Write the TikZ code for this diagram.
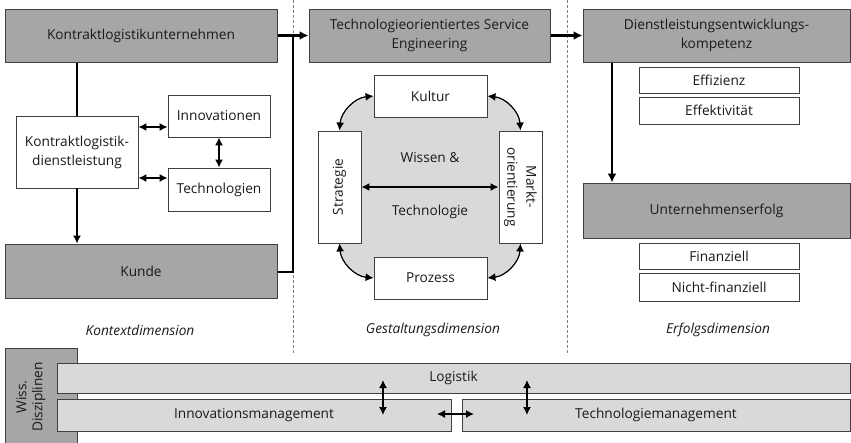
\documentclass[tikz,border=0pt]{standalone}
\usepackage{fontspec}
\setmainfont{Open Sans}
\usetikzlibrary{arrows.meta,positioning,backgrounds}
\definecolor{boxgray}{HTML}{A6A6A6}
\definecolor{bargray}{HTML}{D9D9D9}
\definecolor{linegray}{HTML}{404040}
\definecolor{textgray}{HTML}{1A1A1A}
\tikzset{
    kompbox/.style={
    rectangle,draw=linegray,fill=boxgray,line width=1pt,align=center,inner sep=0pt
    },
    subbox/.style={
    rectangle,draw=linegray,fill=white,line width=0.9pt,align=center,inner sep=0pt
    },
    discbar/.style={
    rectangle,draw=linegray,fill=bargray,line width=0.9pt,inner sep=0pt
    },
    dimlabel/.style={
    font=\fontsize{13.7}{17}\selectfont\itshape
    },
    dbl/.style={
    {Latex[length=8pt,width=8pt]}-{Latex[length=8pt,width=8pt]},line width=1.3pt
    },
    flow/.style={
    -{Latex[length=9pt,width=9pt]},line width=2.3pt
    },
    link/.style={
    line width=1.3pt
    },
    sep/.style={
    draw=gray,line width=0.9pt,dash pattern=on 3pt off 2pt
    },
}

\begin{document}
\begin{tikzpicture}[x=1pt,y=1pt,font=\fontsize{13.7}{19}\selectfont,text=textgray]
  \useasboundingbox (0,0) rectangle (851,-442);
  \clip (0,0) rectangle (851,-442);

  % dimension separators
  \draw[sep] (293,0) -- (293,-355);
  \draw[sep] (567,0) -- (567,-355);

  % Kontextdimension
  \node[kompbox,minimum width=272,minimum height=53] (ku) at (141,-35.5) {Kontraktlogistikunternehmen};
  \node[subbox,minimum width=122,minimum height=72] (kd) at (77,-152) {Kontraktlogistik-\\dienstleistung};
  \node[subbox,minimum width=102,minimum height=42] (inno) at (219,-116) {Innovationen};
  \node[subbox,minimum width=102,minimum height=43] (tech) at (219,-189.5) {Technologien};
  \node[kompbox,minimum width=272,minimum height=54] (kunde) at (141,-271) {Kunde};
  \node[dimlabel] (kontext) at (140,-330) {Kontextdimension};

  % Gestaltungsdimension
  \node[kompbox,minimum width=241,minimum height=53] (tse) at (429.5,-35.5) {Technologieorientiertes Service\\Engineering};
  \node[subbox,minimum width=113,minimum height=42] (kultur) at (430.5,-96) {Kultur};
  \node[subbox,minimum width=113,minimum height=42] (prozess) at (430.5,-278) {Prozess};
  \node[subbox,rotate=90,minimum width=112,minimum height=43] (strat) at (339.5,-187) {Strategie};
  \node[subbox,rotate=-90,minimum width=112,minimum height=43] (markt) at (520.5,-187) {Markt-\\orientierung};
  \node (wissen) at (430,-158) {Wissen \&};
  \node (technol) at (430,-212) {Technologie};
  \node[dimlabel] (gestalt) at (433,-330) {Gestaltungsdimension};

  % Erfolgsdimension
  \node[kompbox,minimum width=267,minimum height=53] (dlk) at (716.5,-35.5) {Dienstleistungsentwicklungs-\\kompetenz};
  \node[subbox,minimum width=160,minimum height=26] (eff) at (719,-80) {Effizienz};
  \node[subbox,minimum width=160,minimum height=27] (effek) at (719,-110.5) {Effektivität};
  \node[kompbox,minimum width=267,minimum height=55] (ue) at (716.5,-210.5) {Unternehmenserfolg};
  \node[subbox,minimum width=160,minimum height=26] (fin) at (719,-256) {Finanziell};
  \node[subbox,minimum width=160,minimum height=28] (nfin) at (719,-287) {Nicht-finanziell};
  \node[dimlabel] (erfolg) at (718,-330) {Erfolgsdimension};

  % Wiss. Disziplinen
  \node[kompbox,minimum width=72,minimum height=97] (wiss) at (41,-396.5) {};
  \node[rotate=90,align=center,font=\fontsize{13.7}{16}\selectfont] (wisstxt) at (31,-397) {Wiss.\\Disziplinen};
  \node[discbar,minimum width=793,minimum height=30] (log) at (453.5,-378) {Logistik};
  \node[discbar,minimum width=394,minimum height=32] (innov) at (254,-415) {Innovationsmanagement};
  \node[discbar,minimum width=388,minimum height=32] (techm) at (656,-415) {Technologiemanagement};

  % Wissen & Technologie
  \begin{pgfonlayer}{background}
    \fill[bargray] (kultur.west) to[bend right=40] (strat.east) -- (strat.west)
      to[bend right=40] (prozess.west) -- (prozess.east)
      to[bend right=40] (markt.east) -- (markt.west)
      to[bend right=40] (kultur.east) -- cycle;
  \end{pgfonlayer}
  \draw[dbl] (kultur.west) to[bend right=40] (strat.east);
  \draw[dbl] (strat.west) to[bend right=40] (prozess.west);
  \draw[dbl] (prozess.east) to[bend right=40] (markt.east);
  \draw[dbl] (markt.west) to[bend right=40] (kultur.east);
  \draw[dbl] (strat.south) -- (markt.south);

  % connectors
  \coordinate (j) at (293,-35.5);
  \coordinate (d1) at (612,0);
  \draw[link] (kd.north) -- (kd.north |- ku.south);
  \draw[link,-{Latex[length=8pt,width=8pt]}] (kd.south) -- (kd.south |- kunde.north);
  \draw[dbl] ([yshift=-11pt]inno.west) -- ([yshift=-11pt]inno.west -| kd.east);
  \draw[dbl] ([yshift=11.5pt]tech.west) -- ([yshift=11.5pt]tech.west -| kd.east);
  \draw[dbl] (inno.south) -- (tech.north);
  \draw[line width=2.3pt] (ku.east) -- (j);
  \draw[line width=2.3pt] ([yshift=-1pt]kunde.east) -| (j);
  \draw[flow] (j) -- (tse.west);
  \draw[flow] (tse.east) -- (dlk.west);
  \draw[flow] (d1 |- dlk.south) -- (d1 |- ue.north);

  % disciplines
  \coordinate (v1) at (383,-380);
  \coordinate (v2) at (383,-415);
  \coordinate (w1) at (527,-380);
  \coordinate (w2) at (527,-415);
  \coordinate (h1) at (437,-414);
  \coordinate (h2) at (474,-414);
  \draw[dbl] (v1) -- (v2);
  \draw[dbl] (w1) -- (w2);
  \draw[dbl] (h1) -- (h2);
\end{tikzpicture}
\end{document}
